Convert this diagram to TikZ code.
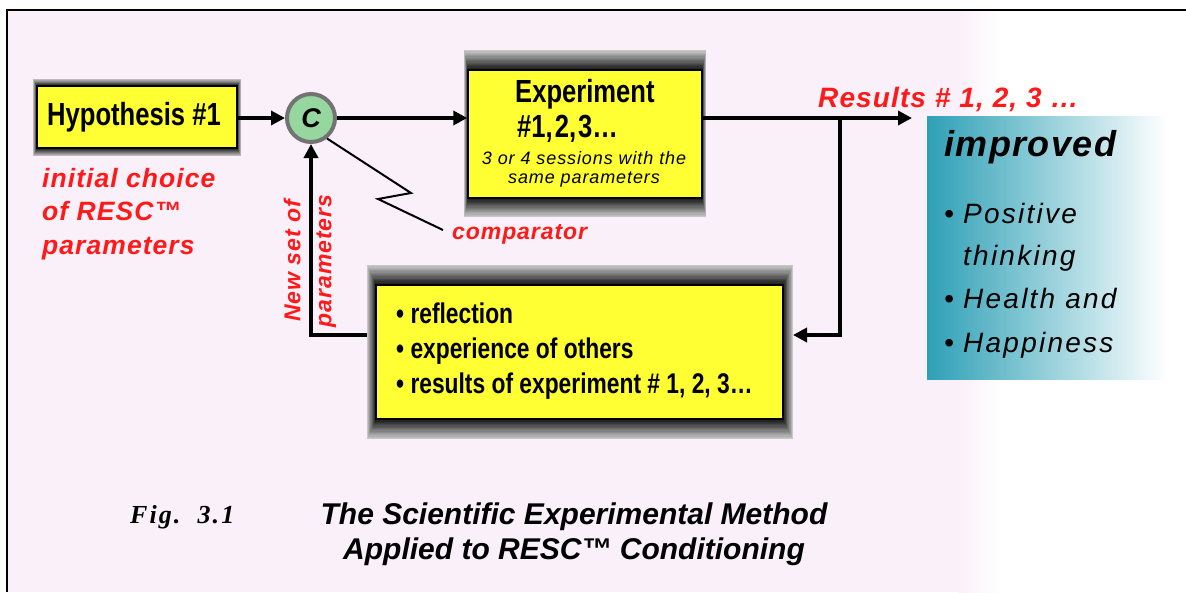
\documentclass[tikz,border=0pt]{standalone}
\usepackage{fontspec}
\setmainfont{Liberation Sans}
\newfontfamily\condfont[FakeStretch=0.8]{Liberation Sans}
\newfontfamily\redfont[LetterSpace=4]{Liberation Sans}
\newfontfamily\widefont[LetterSpace=8]{Liberation Sans}
\newfontfamily\smallfont[LetterSpace=5]{Liberation Sans}
\newfontfamily\figfont[LetterSpace=8]{Liberation Serif}
\usetikzlibrary{arrows.meta,calc}

\definecolor{bgpink}{RGB}{250,240,249}
\definecolor{boxyellow}{RGB}{255,255,51}
\definecolor{redtxt}{RGB}{255,25,25}
\definecolor{teal1}{RGB}{45,160,182}
\definecolor{teal2}{RGB}{165,218,226}
\definecolor{cgreen}{RGB}{150,215,160}

\newcommand{\bevelframe}[8]{%
  \foreach \i in {0,...,16}{%
    \pgfmathsetmacro\tt{\i/16}%
    \pgfmathsetmacro\sv{22+73*\tt}%
    \fill[black!\sv] ({#1+(#5-#1)*\tt},{#2+(#6-#2)*\tt}) rectangle ({#3+(#7-#3)*\tt},{#4+(#8-#4)*\tt});
  }}

\tikzset{
  ybox/.style={fill=boxyellow, draw=black, line width=1.5pt, inner sep=0pt},
  arr/.style={line width=3.5pt, -{Triangle[length=14pt,width=14pt]}},
  zig/.style={line width=2pt},
  redlab/.style={text=redtxt, inner sep=0pt},
  blacklab/.style={text=black, inner sep=0pt},
  imptext/.style={blacklab, anchor=base west, font=\widefont\itshape\fontsize{28}{34}\selectfont},
}

\begin{document}
\begin{tikzpicture}[x=1pt,y=-1pt]
\useasboundingbox (0,0) rectangle (1186,592);
% background
\fill[white] (0,0) rectangle (1186,592);
\fill[bgpink] (7,10) rectangle (960,592);
\shade[left color=bgpink, right color=white] (959,10) rectangle (1000,592);
\draw[line width=1.5pt] (7,592) -- (7,10) -- (1186,10);

% bevel shadows
\bevelframe{33}{79}{241}{156}{37}{86}{237}{148}
\bevelframe{464}{50}{706}{217}{468}{70}{702}{198}
\bevelframe{367}{265}{793}{439}{376}{285}{783}{419}

% boxes
\node[ybox, minimum width=200, minimum height=62] (hyp) at (137,117) {};
\node[blacklab, font=\condfont\bfseries\fontsize{32}{36}\selectfont] (hyptxt) at (134,117) {Hypothesis \#1};

\node[circle, minimum size=48, fill=cgreen, draw=black!55, line width=4pt, inner sep=0pt,
      font=\bfseries\itshape\fontsize{27}{30}\selectfont] (comp) at (311,118) {C};

\node[ybox, minimum width=234, minimum height=128] (exp) at (585,134) {};
\node[blacklab, anchor=west, font=\condfont\bfseries\fontsize{32}{36}\selectfont] (exp1) at (515,94) {Experiment};
\node[blacklab, anchor=west, font=\condfont\bfseries\fontsize{32}{36}\selectfont] (exp2) at (517,129) {\#1,\kern2pt 2,\kern2pt 3…};
\node[blacklab, font=\smallfont\itshape\fontsize{18}{22}\selectfont] (exp3) at (584,158) {3 or 4 sessions with the};
\node[blacklab, font=\smallfont\itshape\fontsize{18}{22}\selectfont] (exp4) at (584,180) {same parameters};

\node[ybox, minimum width=407, minimum height=134] (refl) at (579.5,352) {};
\node[blacklab, anchor=west, align=left, font=\condfont\bfseries\fontsize{28.5}{35}\selectfont] (refltxt) at (396,351)
  {• reflection\\• experience of others\\• results of experiment \# 1, 2, 3…};

% improved box
\node[shade, left color=teal1, middle color=teal2, right color=white, minimum width=240, minimum height=263, inner sep=0pt] (impbox) at (1047,247.5) {};
\node[blacklab, anchor=base west, font=\redfont\bfseries\itshape\fontsize{36}{40}\selectfont] (imp) at (944,156) {improved};
\node[imptext] (i1) at (944,223) {\makebox[19pt][l]{•}Positive};
\node[imptext] (i2) at (944,265) {\hspace*{19pt}thinking};
\node[imptext] (i3) at (944,308) {\makebox[19pt][l]{•}Health and};
\node[imptext] (i4) at (944,352) {\makebox[19pt][l]{•}Happiness};

% red labels
\node[redlab, anchor=west, align=left, font=\redfont\bfseries\itshape\fontsize{26.5}{33.5}\selectfont] (init) at (42,214)
  {initial choice\\of RESC™\\parameters};
\node[redlab, anchor=west, font=\redfont\bfseries\itshape\fontsize{28}{32}\selectfont] (res) at (818,100) {Results \# 1, 2, 3 …};
\node[redlab, anchor=west, font=\redfont\bfseries\itshape\fontsize{23}{28}\selectfont] (cmp) at (452,234) {comparator};
\node[redlab, rotate=90, align=center, font=\redfont\bfseries\itshape\fontsize{23}{31}\selectfont] (newset) at (310,261)
  {New set of\\parameters};

% coordinates
\coordinate (resend) at (912,118);
\coordinate (branch) at (840,118);
\coordinate (reflin) at (793,335);
\coordinate (reflout) at (367,335);
\coordinate (z1) at (411,193);
\coordinate (z2) at (378,199);

% connectors
\draw[arr] (hyp.east |- comp) -- (comp.west);
\draw[arr] (comp.east) -- (comp.east -| exp.west);
\draw[arr] (exp.east |- resend) -- (resend);
\draw[arr] (branch) |- (reflin);
\draw[arr] (reflout) -| (comp.south);
\draw[zig] (comp.-52) -- (z1) -- (z2) -- ($(cmp.west)+(-9,-4)$);

% caption
\node[blacklab, anchor=west, font=\figfont\bfseries\itshape\fontsize{26}{30}\selectfont] (fig) at (130,517) {Fig.\ \ 3.1};
\node[blacklab, align=center, font=\bfseries\itshape\fontsize{30}{35}\selectfont] (cap) at (574,534)
  {The Scientific Experimental Method\\Applied to RESC™ Conditioning};
\end{tikzpicture}
\end{document}
